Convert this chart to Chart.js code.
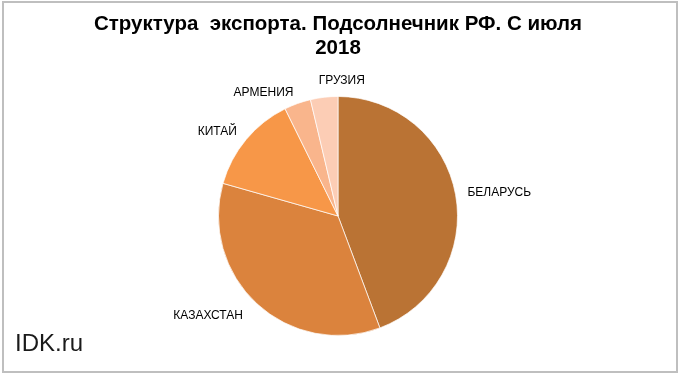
<!DOCTYPE html>
<html>
<head>
<meta charset="utf-8">
<script src="https://cdn.jsdelivr.net/npm/chart.js@4/dist/chart.umd.min.js"></script>
<style>
  html, body { margin: 0; padding: 0; background: #fff; }
  #wrap { width: 680px; height: 375px; position: relative; }
</style>
</head>
<body>
<div id="wrap"><canvas id="pie" width="680" height="375"></canvas></div>
<script>
const countries = ['БЕЛАРУСЬ', 'КАЗАХСТАН', 'КИТАЙ', 'АРМЕНИЯ', 'ГРУЗИЯ']
const shares    = [44.3, 35.1, 13.3, 3.6, 3.7]
const colors    = ['#BA7334', '#DB833D', '#F79748', '#F9B58C', '#FCCDB5']
const titleLines = ['Структура  экспорта. Подсолнечник РФ. С июля', '2018']

const frame = {
  id: 'frame',
  beforeDraw(chart) {
    const ctx = chart.ctx
    ctx.save()
    ctx.fillStyle = '#fff'
    ctx.fillRect(0, 0, chart.width, chart.height)
    ctx.strokeStyle = '#BFBFBF'
    ctx.lineWidth = 2
    ctx.strokeRect(3, 2, chart.width - 6, chart.height - 5)
    ctx.restore()
  },
  afterDraw(chart) {
    const ctx = chart.ctx
    ctx.save()
    ctx.fillStyle = '#1A1A1A'
    ctx.font = '24px "Liberation Sans", Arial, sans-serif'
    ctx.textBaseline = 'middle'
    ctx.textAlign = 'left'
    ctx.fillText('IDK.ru', 15, 344)
    ctx.restore()
  },
}

// outside labels, placed off each slice's mid angle
const outLabels = {
  id: 'outLabels',
  afterDatasetsDraw(chart) {
    const ctx = chart.ctx
    const arcs = chart.getDatasetMeta(0).data
    ctx.save()
    ctx.font = '12px "Liberation Sans", Arial, sans-serif'
    ctx.fillStyle = '#000'
    ctx.textBaseline = 'middle'
    arcs.forEach((arc, i) => {
      const { x, y, startAngle, endAngle, outerRadius } = arc.getProps(['x', 'y', 'startAngle', 'endAngle', 'outerRadius'], true)
      const mid = (startAngle + endAngle) / 2
      const c = Math.cos(mid), s = Math.sin(mid)
      let px = x + c * (outerRadius + 12)
      let py = y + s * (outerRadius + 12)
      if (Math.abs(c) < 0.2) {
        ctx.textAlign = 'left'
        px -= 4
        py -= 5
      } else {
        ctx.textAlign = c > 0 ? 'left' : 'right'
        if (s > 0.5) { px -= 6; py += 3 }
      }
      ctx.fillText(countries[i], px, py)
    })
    ctx.restore()
  },
}

new Chart(document.getElementById('pie'), {
  type: 'pie',
  data: {
    labels: countries,
    datasets: [{ data: shares, backgroundColor: colors, borderColor: 'rgba(255,255,255,.7)', borderWidth: 1, hoverOffset: 0 }],
  },
  options: {
    responsive: false, animation: false,
    layout: { padding: { left: 0, right: 4, top: 0, bottom: 39 } },
    plugins: {
      legend: { display: false },
      tooltip: { enabled: false },
      title: {
        display: true, text: titleLines, color: '#000',
        font: { family: '"Liberation Sans", Arial, sans-serif', size: 20.5, weight: 'bold', lineHeight: 1.17 },
        padding: { top: 12, bottom: 36 },
      },
    },
  },
  plugins: [frame, outLabels],
})
</script>
</body>
</html>
